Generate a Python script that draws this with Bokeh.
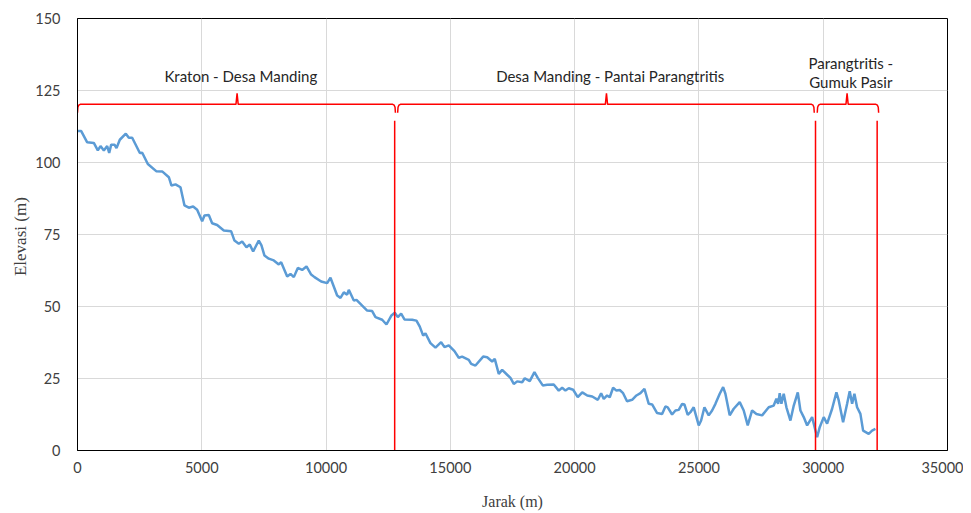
from bokeh.plotting import figure
from bokeh.models import FixedTicker, Range1d
from bokeh.core.properties import value
from bokeh.embed import file_html
from bokeh.resources import INLINE

# ---------------- data ----------------
jarak = [0, 150, 390, 656, 818, 925, 1060, 1194, 1275, 1356, 1488, 1569, 1702, 1944, 2065, 2200,
         2508, 2604, 2829, 3165, 3406, 3674, 3781, 3942, 4143, 4304, 4478, 4652, 4813, 5015, 5108,
         5282, 5417, 5618, 5886, 6182, 6315, 6489, 6624, 6798, 6931, 7066, 7293, 7401, 7522, 7696,
         7897, 8098, 8193, 8435, 8568, 8702, 8863, 9038, 9212, 9400, 9534, 9803, 10044, 10177,
         10446, 10580, 10714, 10848, 10914, 11116, 11223, 11452, 11653, 11854, 11988, 12257, 12430,
         12631, 12764, 12886, 13020, 13153, 13463, 13636, 13770, 13906, 13998, 14199, 14401, 14629,
         14763, 14937, 15165, 15339, 15473, 15741, 15837, 16010, 16320, 16480, 16681, 16786, 16947,
         17084, 17285, 17418, 17551, 17688, 17889, 17993, 18194, 18383, 18516, 18717, 18894, 19160,
         19361, 19498, 19630, 19763, 19940, 20125, 20306, 20507, 20708, 20934, 21066, 21172, 21307,
         21412, 21547, 21681, 21814, 21950, 22107, 22313, 22486, 22647, 22808, 22981, 23117, 23318,
         23519, 23652, 23745, 23920, 24055, 24188, 24324, 24416, 24549, 24658, 24790, 24992, 25088,
         25221, 25394, 25531, 25664, 25837, 25974, 26065, 26238, 26400, 26641, 26802, 26963, 27139,
         27313, 27542, 27808, 28009, 28118, 28186, 28250, 28318, 28411, 28520, 28681, 28815, 28977,
         29083, 29216, 29353, 29554, 29755, 29860, 30020, 30157, 30358, 30531, 30624, 30800, 30962,
         31066, 31163, 31255, 31363, 31496, 31605, 31830, 31966, 32100]
elevasi = [110.9, 110.9, 107, 106.8, 104.2, 105.7, 104.2, 105.7, 103.3, 106.2, 106.2, 105, 107.9, 110, 108.6, 108.6,
           103.3, 103.4, 99.5, 97, 96.9, 94.9, 92, 92.4, 91.4, 85.1, 84.3, 84.7, 83.6, 79.6, 81.6,
           81.8, 78.9, 78.3, 76.4, 76.1, 72.9, 71.8, 72.6, 70.6, 71.5, 69.1, 72.9, 71.2, 67.7, 66.6,
           66, 64.6, 65.4, 60.4, 61.3, 60.2, 63.4, 62.7, 63.9, 61.1, 60.2, 58.7, 58.1, 60,
           53.8, 53, 54.9, 54.1, 55.8, 52.1, 52.3, 50.3, 48.6, 48.4, 46.3, 45.4, 43.75,
           46.9, 47.8, 46.3, 47.5, 45.5, 45.4, 45.1, 43, 39.9, 40.7, 37.3, 35.7, 37.6,
           35.9, 36.5, 34.5, 32.2, 32.6, 31.5, 30.1, 29.5, 32.6, 32.4, 30.9, 31.8, 26.6,
           28, 26.3, 25.2, 23.1, 24, 23.7, 25.1, 24.1, 27.2, 25.2, 22.6, 22.8, 22.9,
           20.8, 21.8, 20.8, 21.6, 21.1, 18.5, 20.2, 19.1, 18.75, 17.6, 19.9, 17.9, 19.1,
           18.5, 21.8, 20.8, 21, 19.9, 17.1, 17.6, 19.1, 19.9, 21.4, 16.2, 16, 13,
           12.7, 15.3, 15, 12.5, 13.9, 14.1, 16.2, 16, 12.4, 13.3, 15, 8.7, 10.4,
           15, 12.2, 13.9, 16.2, 19.7, 22, 19.7, 12.2, 14.5, 16.8, 13.9, 8.7, 13.9,
           12.7, 12.2, 15, 15.6, 18, 16.2, 19.9, 16.2, 19.7, 15, 10.4, 15.6, 20.2,
           13.9, 11.6, 8.7, 11.6, 4.6, 8.1, 11.6, 9.3, 14.5, 20.2, 17.4, 9.8, 16.2,
           20.6, 16.2, 19.7, 15, 12.7, 6.9, 5.8, 6.9, 7.5]

# segment boundaries (m)
batas = [12760, 29690, 32170]
seg_start = [0, 12880, 29760]
seg_end = [12790, 29640, 32230]
seg_mid = [6420, 21280, 30960]
seg_label = ["Kraton - Desa Manding", "Desa Manding - Pantai Parangtritis", "Parangtritis -\nGumuk Pasir"]

x_ticks = [0, 5000, 10000, 15000, 20000, 25000, 30000, 35000]
y_ticks = [0, 25, 50, 75, 100, 125, 150]

# ---------------- figure ----------------
p = figure(frame_width=870, frame_height=432, output_backend="svg", toolbar_location=None,
           x_range=Range1d(0, 35000), y_range=Range1d(0, 150),
           min_border_left=77, min_border_right=16, min_border_top=18, min_border_bottom=40)
p.background_fill_color = "white"
p.border_fill_color = "white"
p.outline_line_color = "#000000"
p.outline_line_width = 1

p.xaxis.ticker = FixedTicker(ticks=x_ticks)
p.yaxis.ticker = FixedTicker(ticks=y_ticks)
for ax in (p.xaxis[0], p.yaxis[0]):
    ax.major_tick_line_color = None
    ax.minor_tick_line_color = None
    ax.major_tick_out = 0
    ax.major_tick_in = 0
    ax.axis_line_color = "#000000"
    ax.major_label_text_font = "Lato"
    ax.major_label_text_font_size = "14.5px"
    ax.major_label_text_color = "#404040"
    ax.axis_label_text_font = "Liberation Serif"
    ax.axis_label_text_font_style = "normal"
    ax.axis_label_text_color = "#404040"
p.xaxis.major_label_standoff = 11
p.yaxis.major_label_standoff = 17
p.xaxis.axis_label = "Jarak (m)"
p.xaxis.axis_label_text_font_size = "16px"
p.xaxis.axis_label_standoff = 17
p.yaxis.axis_label = "Elevasi  (m)"
p.yaxis.axis_label_text_font_size = "17px"
p.yaxis.axis_label_standoff = 2

p.xgrid.grid_line_color = "#d9d9d9"
p.ygrid.grid_line_color = "#d9d9d9"
p.xgrid.grid_line_width = 1
p.ygrid.grid_line_width = 1

# elevation profile
p.line(jarak, elevasi, line_color="#5b9bd5", line_width=2.5)

# vertical red boundary lines
p.segment(x0=batas, y0=[0] * len(batas), x1=batas, y1=[114.5] * len(batas),
          line_color="#ff0000", line_width=1.5)

# braces
bx, by = [], []
for s, e, m in zip(seg_start, seg_end, seg_mid):
    xs = [s, s + 15, s + 50, s + 110, m - 45, m, m + 45, e - 110, e - 50, e - 15, e]
    ys = [117.3, 119.2, 119.9, 120.2, 120.2, 124.0, 120.2, 120.2, 119.9, 119.2, 117.3]
    bx.append(xs)
    by.append(ys)
p.multi_line(bx, by, line_color="#ff0000", line_width=1.5)

# labels
lab_x, lab_y, lab_t = [], [], []
for m, t in zip(seg_mid, seg_label):
    lines = t.split("\n")
    if len(lines) == 1:
        lab_x.append(m + 150)
        lab_y.append(130.2)
        lab_t.append(t)
    else:
        lab_x += [m + 150, m + 150]
        lab_y += [134.6, 127.9]
        lab_t += lines
p.text(x=lab_x, y=lab_y, text=lab_t, text_align="center", text_baseline="alphabetic",
       text_font=value("Lato"), text_font_size="15px", text_color="#262626")

open("out.html", "w").write(file_html(p, INLINE))
